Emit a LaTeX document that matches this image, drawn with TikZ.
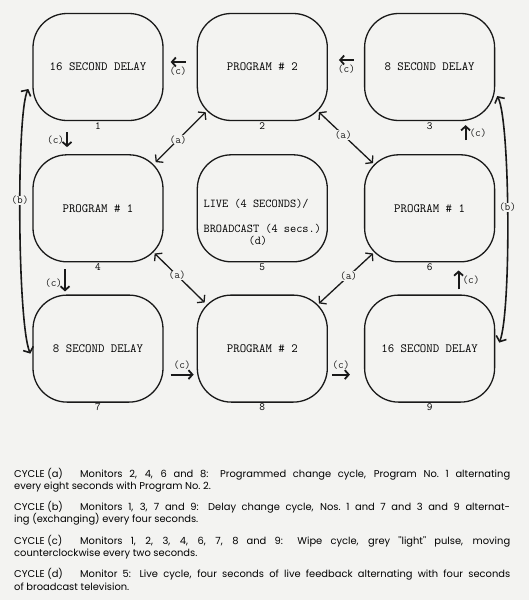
\documentclass[tikz,border=0pt]{standalone}
\usepackage{fontspec}
\newfontfamily\capfont{Poppins}
\usepackage{tikz}
\usetikzlibrary{arrows.meta,positioning}
\definecolor{paper}{RGB}{243,243,241}
\tikzstyle{monitor}=[rectangle,rounded corners=34pt,draw=black!90,line width=1.3pt,
                     minimum width=130pt,minimum height=107pt,inner sep=0pt,
                     font=\fontsize{12.5}{14}\ttfamily,label distance=0pt]
\tikzstyle{num}=[font=\fontsize{11}{12}\ttfamily,inner sep=1pt]
\tikzstyle{tag}=[font=\fontsize{11}{12}\ttfamily,inner sep=1pt]
\tikzstyle{cut}=[tag,fill=paper,inner sep=0.5pt]
\tikzstyle{wipe}=[->,line width=1.8pt,black!90]
\tikzstyle{prog}=[<->,>={Straight Barb[length=4.5pt,width=11pt]},line width=1.3pt,black!90]
\tikzstyle{delay}=[<->,>={Straight Barb[length=4.5pt,width=11pt]},line width=1.6pt,black!90]
\tikzstyle{caption}=[font=\capfont\fontsize{9.9}{12.5}\selectfont,text width=496pt,
                     align=justify,inner sep=0pt]
\begin{document}
\begin{tikzpicture}[x=1pt,y=1pt,>={Straight Barb[length=4pt,width=9pt]}]

  \path[use as bounding box,fill=paper] (0,0) rectangle (529,-600);

	\node[monitor,label={[num]below:1}] (m1) at (98,-67) {16 SECOND DELAY};
	\node[monitor,label={[num]below:2}] (m2) [right=33pt of m1] {PROGRAM \# 2};
	\node[monitor,label={[num]below:3}] (m3) [right=36pt of m2] {8 SECOND DELAY};
	\node[monitor,label={[num]below:4}] (m4) [below=33pt of m1] {PROGRAM \# 1};
	\node[monitor,label={[num]below:5},
	      label={[font=\fontsize{12}{12}\ttfamily,align=left,yshift=-14pt]center:{LIVE (4 SECONDS)/\\[13pt]BROADCAST (4 secs.)\\\hspace*{45pt}(d)}}]
	      (m5) [right=33pt of m4] {};
	\node[monitor,label={[num]below:6}] (m6) [right=36pt of m5] {PROGRAM \# 1};
	\node[monitor,label={[num]below:7}] (m7) [below=32pt of m4] {8 SECOND DELAY};
	\node[monitor,label={[num]below:8}] (m8) [right=33pt of m7] {PROGRAM \# 2};
	\node[monitor,label={[num]below:9}] (m9) [right=36pt of m8] {16 SECOND DELAY};

  \path [wipe]
        ([shift={(-11pt,5pt)}]m2.west) edge node[tag,below=3pt] {(c)} ([shift={(7pt,5pt)}]m1.east);
  \path [wipe]
        ([shift={(-10pt,7pt)}]m3.west) edge node[tag,below=3pt] {(c)} ([shift={(11pt,7pt)}]m2.east);
  \path [wipe]
        ([shift={(-31pt,-11pt)}]m1.south) edge node[tag,left=1pt] {(c)} ([shift={(-31pt,7pt)}]m4.north);
  \path [wipe]
        ([shift={(-33pt,-7pt)}]m4.south) edge node[tag,left=1pt,pos=0.6] {(c)} ([shift={(-33pt,3pt)}]m7.north);
  \path [wipe]
        ([shift={(7pt,-26pt)}]m7.east) edge node[tag,above=3pt] {(c)} ([shift={(-3pt,-26pt)}]m8.west);
  \path [wipe]
        ([shift={(4pt,-26pt)}]m8.east) edge node[tag,above=3pt] {(c)} ([shift={(-14pt,-26pt)}]m9.west);
  \path [wipe]
        ([shift={(29pt,5pt)}]m9.north) edge node[tag,right=2pt] {(c)} ([shift={(29pt,-8pt)}]m6.south);
  \path [wipe]
        ([shift={(36pt,14pt)}]m6.north) edge node[tag,right=2pt] {(c)} ([shift={(36pt,-4pt)}]m3.south);

  \path [prog]
        ([shift={(9pt,9pt)}]m2.south west) edge node[cut,pos=0.55] {(a)} ([shift={(-8pt,-8pt)}]m4.north east);
  \path [prog]
        ([shift={(-9pt,9pt)}]m2.south east) edge node[cut,pos=0.45] {(a)} ([shift={(9pt,-9pt)}]m6.north west);
  \path [prog]
        ([shift={(-9pt,9pt)}]m4.south east) edge node[cut,pos=0.45] {(a)} ([shift={(8pt,-8pt)}]m8.north west);
  \path [prog]
        ([shift={(-9pt,-9pt)}]m8.north east) edge node[cut,pos=0.55] {(a)} ([shift={(9pt,9pt)}]m6.south west);

  \draw [delay]
        ([shift={(-4pt,-22pt)}]m1.west) .. controls +(-12pt,-23pt) and +(-13pt,31pt) ..
        node[cut,pos=0.45] {(b)} ([shift={(-2pt,-5pt)}]m7.west);
  \draw [delay]
        ([shift={(2pt,-29pt)}]m3.east) .. controls +(13pt,-25pt) and +(12pt,30pt) ..
        node[cut,pos=0.47] {(b)} ([shift={(4pt,6pt)}]m9.east);

	\node[caption,anchor=north west] (capa) at (14,-468) {\hangindent=66pt\hangafter=1
		\makebox[66pt][l]{CYCLE (a)}Monitors 2, 4, 6 and 8: Programmed change cycle, Program No.~1 alternating\linebreak
		every eight seconds with Program No.~2.};
	\node[caption] (capb) [below=8pt of capa] {\hangindent=66pt\hangafter=1
		\makebox[66pt][l]{CYCLE (b)}Monitors 1, 3, 7 and 9: Delay change cycle, Nos.~1 and 7 and 3 and 9 alternat-\linebreak
		ing (exchanging) every four seconds.};
	\node[caption] (capc) [below=9pt of capb] {\hangindent=66pt\hangafter=1
		\makebox[66pt][l]{CYCLE (c)}Monitors 1, 2, 3, 4, 6, 7, 8 and 9: Wipe cycle, grey ''light'' pulse, moving\linebreak
		counterclockwise every two seconds.};
	\node[caption] (capd) [below=9pt of capc] {\hangindent=66pt\hangafter=1
		\makebox[66pt][l]{CYCLE (d)}Monitor 5: Live cycle, four seconds of live feedback alternating with four seconds\linebreak
		of broadcast television.};

\end{tikzpicture}
\end{document}
